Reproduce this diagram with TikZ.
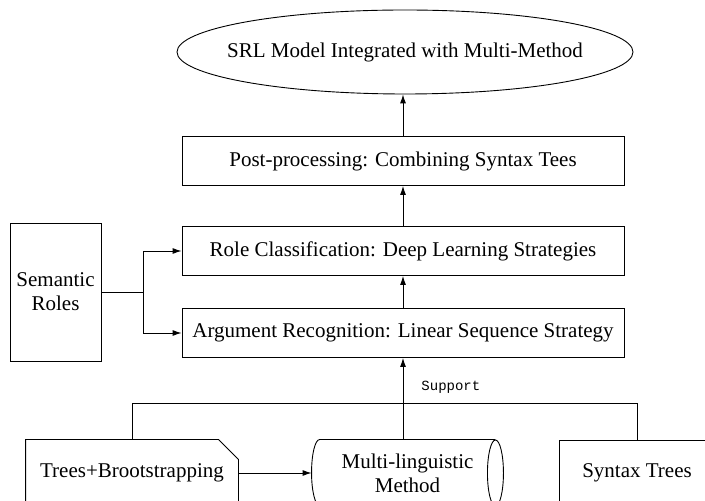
\documentclass[tikz,border=0pt]{standalone}
\usepackage{fontspec}
\setmainfont{Liberation Serif}
\newfontfamily\supportfont{Liberation Mono}
\usetikzlibrary{arrows.meta}
\usetikzlibrary{shapes.geometric, calc}

\begin{document}
\begin{tikzpicture}[>={Latex[length=9bp,width=6bp]},line join=miter,line width=0.9bp,
  every node/.style={font=\fontsize{21bp}{24bp}\selectfont},
  stepbox/.style={draw,minimum width=442bp,minimum height=49bp,inner sep=0pt},
  srcbox/.style={minimum height=66bp,inner sep=0pt,align=center}]
\useasboundingbox (0bp,0bp) rectangle (705bp,501bp);
\clip (0bp,0bp) rectangle (705bp,501bp);
%%
\node (node_model) at (405bp,449bp) [minimum width=456bp,minimum height=84bp,inner sep=0pt] {SRL Model Integrated with Multi-Method};
  \node (node_post) at (403bp,340bp) [stepbox] {Post-processing: Combining Syntax Tees};
  \node (node_role) at (403bp,250bp) [stepbox] {Role Classification: Deep Learning Strategies};
  \node (node_arg) at (403bp,168bp) [stepbox] {Argument Recognition: Linear Sequence Strategy};
  \node (node_roles) at (55.5bp,209bp) [draw,minimum width=91bp,minimum height=138bp,inner sep=0pt,align=center] {Semantic\\Roles};
  \coordinate (split) at (143bp,209bp);
  \node (node_trees) at (132bp,28bp) [srcbox,minimum width=212bp] {Trees+Brootstrapping};
  \node (node_multi) at (407.5bp,28bp) [srcbox,minimum width=191bp] {Multi-linguistic\\Method};
  \node (node_syntax) at (637bp,28bp) [draw,srcbox,minimum width=156bp] {Syntax Trees};
  \node (node_support) at (421bp,114bp) [anchor=west,inner sep=0pt,font=\supportfont\fontsize{14bp}{15bp}\selectfont] {Support};
  % outlines of the odd shapes
  \draw (node_model) ellipse [x radius=228bp,y radius=42bp];
  \draw (node_trees.south west) -- (node_trees.north west) -- ($(node_trees.north east)+(-20bp,0)$) -- ($(node_trees.north east)+(0,-20bp)$) -- (node_trees.south east);
  \draw ($(node_multi.north east)+(-8bp,0)$) -- ($(node_multi.north west)+(8bp,0)$) arc[start angle=90,end angle=270,x radius=8bp,y radius=33bp] -- ($(node_multi.south east)+(-8bp,0)$);
  \draw ($(node_multi.east)+(-8bp,0)$) ellipse [x radius=8bp,y radius=33bp];
  \draw [black,->] (node_post.north) -- (node_post.north |- node_model.south);
  \draw [black,->] (node_role) -- (node_post);
  \draw [black,->] (node_arg) -- (node_role);
  \draw [black,->] (node_arg.south |- node_multi.north) -- (node_arg.south);
  \draw [black] (node_roles.east) -- (split);
  \draw [black,->] (split) |- (node_role.west);
  \draw [black,->] (split) |- (node_arg.west);
  \draw [black] (node_trees.north) -- ++(0,36bp) -| (node_syntax.north);
  \draw [black,->] (node_trees) -- (node_multi);
%
\end{tikzpicture}
\end{document}
